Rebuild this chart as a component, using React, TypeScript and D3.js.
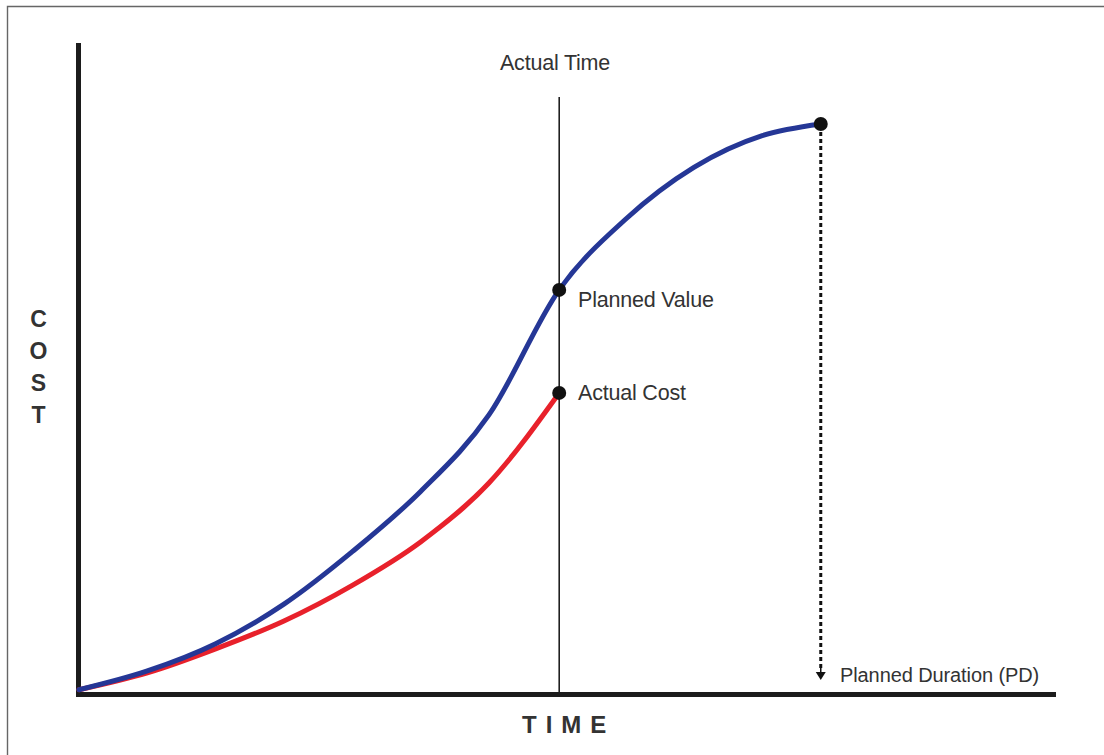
import React from "react";
import * as d3 from "d3";

// time (x) and cost (y) in chart units
const plannedTime = [0, 7, 14, 21, 28, 35, 42, 49.2, 56, 63, 70, 76];
const plannedValue = [0.2, 3.1, 7.3, 13.4, 21.5, 30.8, 42.6, 61.9, 72.8, 80.8, 85.7, 87.5];
const actualTimeSeries = [0, 7, 14, 21, 28, 35, 42, 49.2];
const actualCost = [0.2, 2.8, 6.5, 10.8, 16.3, 23.0, 32.1, 46.0];

const actualTime = 49.2;
const plannedDuration = 76.0;

const labels = {
  actualTime: "Actual Time",
  plannedValue: "Planned Value",
  actualCost: "Actual Cost",
  plannedDuration: "Planned Duration (PD)",
  xAxis: "TIME",
  yAxis: ["C", "O", "S", "T"],
};

const W = 1104;
const H = 755;

export default function App() {
  const x = d3.scaleLinear().domain([0, 100]).range([79, 1055]);
  const y = d3.scaleLinear().domain([0, 100]).range([691, 43]);

  const line = d3
    .line<[number, number]>()
    .x((d) => x(d[0]))
    .y((d) => y(d[1]))
    .curve(d3.curveMonotoneX);

  const pvPts: [number, number][] = plannedTime.map((t, i) => [t, plannedValue[i]]);
  const acPts: [number, number][] = actualTimeSeries.map((t, i) => [t, actualCost[i]]);

  const pvAt = plannedValue[plannedTime.indexOf(actualTime)];
  const acAt = actualCost[actualCost.length - 1];
  const pvEnd = plannedValue[plannedValue.length - 1];

  const font = "'Liberation Sans', Arial, Helvetica, sans-serif";
  const textFill = "#333";

  const axisColor = "#1c1c1c";
  const xa = x(actualTime);
  const xp = x(plannedDuration);

  return (
    <svg
      width={W}
      height={H}
      style={{ position: "absolute", left: 0, top: 0, background: "#fff" }}
    >
      {/* frame */}
      <path d={`M7.5,${H} V6.5 H${W}`} fill="none" stroke="#666" strokeWidth={1.4} />

      {/* axes */}
      <line x1={78.5} y1={43} x2={78.5} y2={697} stroke={axisColor} strokeWidth={5} />
      <line x1={76} y1={694.5} x2={1056} y2={694.5} stroke={axisColor} strokeWidth={5} />

      {/* actual time line */}
      <line x1={xa} y1={97} x2={xa} y2={692} stroke="#111" strokeWidth={1.5} />

      {/* planned duration dashed line with arrow */}
      <line
        x1={xp}
        y1={y(pvEnd) + 8}
        x2={xp}
        y2={668}
        stroke="#111"
        strokeWidth={3}
        strokeDasharray="4 3"
      />
      <path d={`M${xp - 5},672 L${xp + 5},672 L${xp},680 Z`} fill="#111" />
      <line x1={xp} y1={664} x2={xp} y2={673} stroke="#111" strokeWidth={1.5} />

      {/* curves */}
      <path d={line(acPts) || ""} fill="none" stroke="#e8212b" strokeWidth={5} strokeLinecap="round" />
      <path d={line(pvPts) || ""} fill="none" stroke="#253796" strokeWidth={5} strokeLinecap="round" />

      {/* dots */}
      <circle cx={xa} cy={y(pvAt)} r={7} fill="#111" />
      <circle cx={xa} cy={y(acAt)} r={7} fill="#111" />
      <circle cx={xp} cy={y(pvEnd)} r={7} fill="#111" />

      {/* labels */}
      <text x={555} y={70} textAnchor="middle" fontFamily={font} fontSize={21.5} fill={textFill} letterSpacing={-0.2}>
        {labels.actualTime}
      </text>
      <text x={578} y={y(pvAt) + 17} fontFamily={font} fontSize={21.5} fill={textFill} letterSpacing={-0.2}>
        {labels.plannedValue}
      </text>
      <text x={578} y={y(acAt) + 7} fontFamily={font} fontSize={21.5} fill={textFill} letterSpacing={-0.2}>
        {labels.actualCost}
      </text>
      <text x={840} y={682} fontFamily={font} fontSize={20} fill={textFill} letterSpacing={-0.1}>
        {labels.plannedDuration}
      </text>

      <text x={522} y={733} fontFamily={font} fontSize={24} fontWeight="bold" fill={textFill} letterSpacing={9}>
        {labels.xAxis}
      </text>
      {labels.yAxis.map((c, i) => (
        <text
          key={c}
          x={38.5}
          y={327 + i * 32}
          textAnchor="middle"
          fontFamily={font}
          fontSize={23}
          fontWeight="bold"
          fill={textFill}
        >
          {c}
        </text>
      ))}
    </svg>
  );
}
